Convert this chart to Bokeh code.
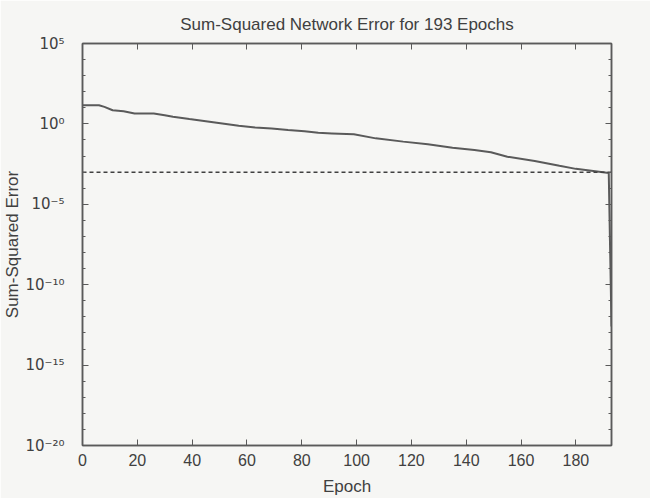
from bokeh.plotting import figure
from bokeh.models import (Range1d, FixedTicker, LinearAxis, LogAxis,
                          CustomJSTickFormatter, ColumnDataSource)
from bokeh.embed import file_html
from bokeh.resources import INLINE

# ---- data ----
epochs = [0, 6, 8, 11, 15, 19, 26, 30, 33, 39, 45, 51, 57, 63, 69, 75, 81,
          86, 91, 99, 107, 117, 126, 135, 143, 149, 155, 165, 174, 180, 192, 193]
sse = [14.5, 14.5, 11.5, 7.1, 6.2, 4.5, 4.5, 3.5, 2.75, 2.0, 1.48, 1.07, 0.76,
       0.60, 0.52, 0.42, 0.355, 0.28, 0.257, 0.224, 0.126, 0.079, 0.054,
       0.033, 0.024, 0.0174, 0.0091, 0.005, 0.0025, 0.0016, 0.00087, 2.5e-13]
goal_x = [0, 193]
goal_y = [0.001, 0.001]
x_ticks = [0, 20, 40, 60, 80, 100, 120, 140, 160, 180]
y_major = [1e-20, 1e-15, 1e-10, 1e-5, 1.0, 1e5]
y_minor = [10.0 ** k for k in range(-20, 6)]

BG = "#f6f6f4"
INK = "#404040"
LINE = "#5a5a5a"
FONT = "Liberation Sans"

p = figure(width=650, height=498, output_backend="svg", toolbar_location=None,
           x_range=Range1d(0, 193), y_range=Range1d(1e-20, 1e5),
           y_axis_type="log",
           min_border_left=81, min_border_right=39,
           min_border_top=43, min_border_bottom=51,
           background_fill_color=BG, border_fill_color=BG,
           title="Sum-Squared Network Error for 193 Epochs")
p.outline_line_color = LINE
p.outline_line_width = 1.5
p.grid.visible = False

p.title.align = "center"
p.title.text_font = FONT
p.title.text_font_size = "17px"
p.title.text_font_style = "normal"
p.title.text_color = INK
p.title.standoff = 19

sup_js = """
const sup = {"0":"\u2070","1":"\u00b9","2":"\u00b2","3":"\u00b3","4":"\u2074",
             "5":"\u2075","6":"\u2076","7":"\u2077","8":"\u2078","9":"\u2079","-":"\u207b"};
const e = Math.round(Math.log10(tick));
return "10" + String(e).split("").map(c => sup[c]).join("");
"""
blank_js = "return '';"

yticker = FixedTicker(ticks=y_major, minor_ticks=y_minor)
xticker = FixedTicker(ticks=x_ticks)

def style(ax):
    ax.axis_line_color = LINE
    ax.axis_line_width = 1.5
    ax.major_tick_line_color = LINE
    ax.minor_tick_line_color = LINE
    ax.major_tick_in = 6
    ax.major_tick_out = 0
    ax.minor_tick_in = 3
    ax.minor_tick_out = 0
    ax.major_label_text_font = FONT
    ax.major_label_text_font_size = "16px"
    ax.major_label_text_color = INK
    ax.axis_label_text_font = FONT
    ax.axis_label_text_font_size = "17px"
    ax.axis_label_text_font_style = "normal"
    ax.axis_label_text_color = INK

xa = p.xaxis[0]
xa.ticker = xticker
xa.axis_label = "Epoch"
xa.major_label_standoff = 8
xa.axis_label_standoff = 8
style(xa)

ya = p.yaxis[0]
ya.ticker = yticker
ya.formatter = CustomJSTickFormatter(code=sup_js)
ya.axis_label = "Sum-Squared Error"
ya.major_label_standoff = 18
ya.axis_label_standoff = 0
style(ya)
ya.major_label_text_font = "DejaVu Sans"
ya.major_label_text_font_size = "15px"

ra = LogAxis(ticker=FixedTicker(ticks=y_major, minor_ticks=y_minor),
             formatter=CustomJSTickFormatter(code=blank_js))
style(ra)
p.add_layout(ra, "right")

ta = LinearAxis(ticker=FixedTicker(ticks=x_ticks),
                formatter=CustomJSTickFormatter(code=blank_js))
style(ta)
ta.major_label_text_font_size = "0px"
p.add_layout(ta, "above")

src = ColumnDataSource(dict(x=epochs, y=sse))
p.line("x", "y", source=src, line_color=LINE, line_width=2)
p.line(goal_x, goal_y, line_color="#404040", line_width=1.5, line_dash="4 3")

with open("out.html", "w", encoding="utf-8") as f:
    f.write(file_html(p, INLINE))
